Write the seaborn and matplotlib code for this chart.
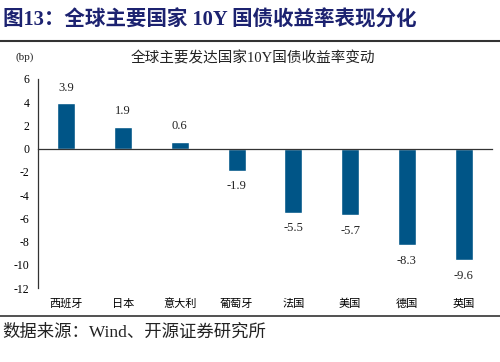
import matplotlib
matplotlib.use('Agg')
import matplotlib.pyplot as plt
import matplotlib.transforms as mtransforms
import seaborn as sns
import numpy as np

# data
countries = ['西班牙', '日本', '意大利', '葡萄牙', '法国', '美国', '德国', '英国']
changes_bp = [3.9, 1.9, 0.6, -1.9, -5.5, -5.7, -8.3, -9.6]
y_ticks = [-12, -10, -8, -6, -4, -2, 0, 2, 4, 6]

fig_title = '图13：全球主要国家 10Y 国债收益率表现分化'
chart_title = '全球主要发达国家10Y国债收益率变动'
source_text = '数据来源：Wind、开源证券研究所'

sns.set_style('white')
plt.rcParams['font.family'] = ['Liberation Serif', 'Noto Sans CJK SC', 'DejaVu Sans']
plt.rcParams['axes.unicode_minus'] = False

bar_color = '#005587'

fig = plt.figure(figsize=(5, 3.62), dpi=100)
ax = fig.add_axes([0.076, 0.204, 0.908, 0.578])

sns.barplot(x=countries, y=changes_bp, color=bar_color, width=0.32,
            saturation=1, ax=ax)

ax.set_ylim(-12, 6)
ax.set_xlim(-0.5, len(countries) - 0.5)
ax.set_yticks(y_ticks)
ax.set_yticklabels([str(t) for t in y_ticks], fontsize=8.5)

# value labels
for cont in ax.containers:
    ax.bar_label(cont, labels=[f'{v:.1f}' for v in changes_bp],
                 padding=7, fontsize=9, color='#222222')

# axis styling: left spine plus a zero line carrying the category ticks
for s in ['top', 'right']:
    ax.spines[s].set_visible(False)
ax.spines['left'].set_color('#333333')
ax.spines['left'].set_linewidth(0.9)
ax.spines['bottom'].set_position(('data', 0))
ax.spines['bottom'].set_color('#333333')
ax.spines['bottom'].set_linewidth(0.9)
ax.tick_params(axis='y', direction='in', length=4, width=0.8, pad=6,
               colors='#333333', labelcolor='black')
boundaries = np.arange(0.5, len(countries) - 0.5 + 0.01, 1.0)
ax.set_xticks(boundaries)
ax.set_xticklabels([''] * len(boundaries))
ax.tick_params(axis='x', direction='in', length=4, width=0.8, colors='#333333')
ax.set_xlabel('')

# category names under the plot
trans = mtransforms.blended_transform_factory(ax.transData, ax.transAxes)
for i, name in enumerate(countries):
    ax.text(i, -0.075, name, transform=trans, ha='center', va='center',
            fontsize=8, color='black')

# titles and decorations
fig.text(0.006, 0.945, fig_title, fontsize=14.8, fontweight='bold',
         color='#1c2270', ha='left', va='center')
fig.add_artist(plt.Line2D([0, 1], [0.888, 0.888], transform=fig.transFigure,
                          color='#333333', linewidth=1.5))
fig.text(0.505, 0.84, chart_title, fontsize=10.5, color='#222222',
         ha='center', va='center')
fig.text(0.03, 0.843, '(bp)', fontsize=8, color='#222222',
         ha='left', va='center')
fig.add_artist(plt.Line2D([0, 1], [0.128, 0.128], transform=fig.transFigure,
                          color='#333333', linewidth=1.2))
fig.text(0.004, 0.08, source_text, fontsize=12.5, color='#222222',
         ha='left', va='center')

fig.savefig('out.png', dpi=100)
